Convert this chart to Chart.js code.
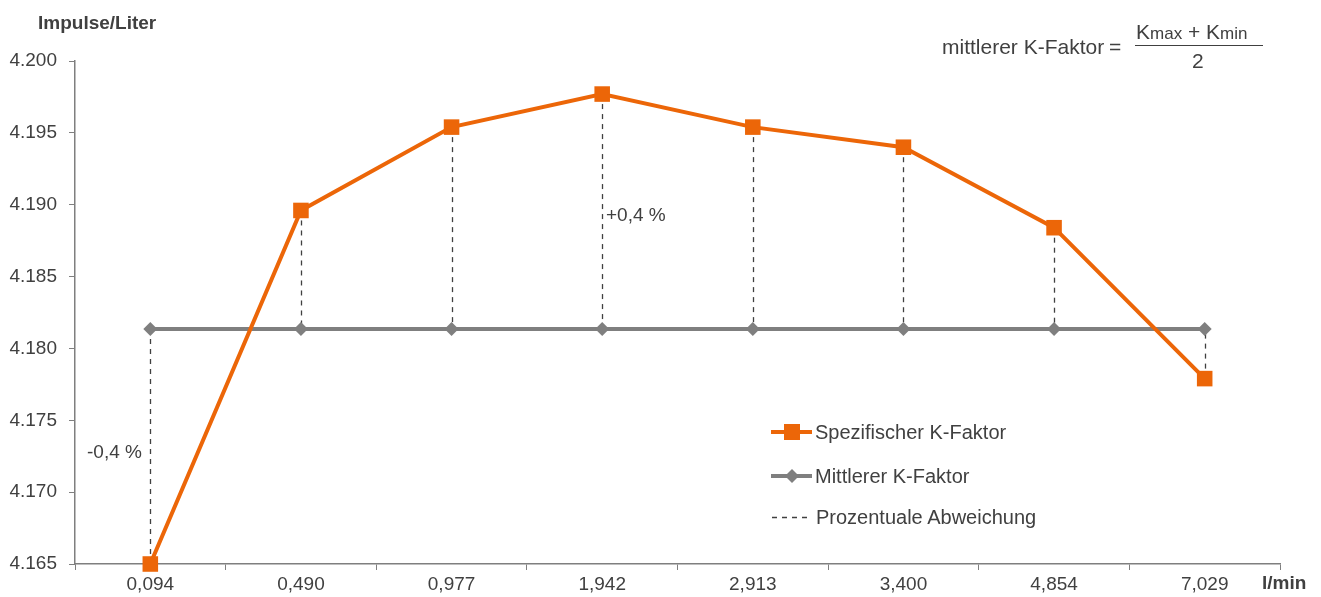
<!DOCTYPE html>
<html>
<head>
<meta charset="utf-8">
<script src="https://cdn.jsdelivr.net/npm/chart.js@4/dist/chart.umd.min.js"></script>
<style>
  body { margin: 0; background: #fff; }
  #wrap { position: relative; width: 1321px; height: 597px; font-family: "Liberation Sans", Arial, sans-serif; color: #404040; }
  #chart { position: absolute; left: 0; top: 0; }
  .txt { position: absolute; white-space: nowrap; line-height: 1; }
  .b { font-weight: bold; }
</style>
</head>
<body>
<div id="wrap">
  <canvas id="chart" width="1321" height="597"></canvas>
  <div class="txt b" style="left:38px; top:13px; font-size:19px;">Impulse/Liter</div>
  <div class="txt b" style="left:1262px; top:573px; font-size:19px;">l/min</div>
  <div class="txt" style="left:942px; top:36px; font-size:21px;">mittlerer K-Faktor</div>
  <div class="txt" style="left:1109px; top:36px; font-size:21px;">=</div>
  <div class="txt" style="left:1136px; top:21px; font-size:21px;">K<span style="font-size:17px">max</span> + K<span style="font-size:17px">min</span></div>
  <div style="position:absolute; left:1135px; top:45px; width:128px; height:1px; background:#404040;"></div>
  <div class="txt" style="left:1192px; top:50px; font-size:21px;">2</div>
  <div class="txt" style="left:606px; top:205px; font-size:19px;">+0,4 %</div>
  <div class="txt" style="left:87px; top:442px; font-size:19px;">-0,4 %</div>
  <div class="txt" style="left:815px; top:422px; font-size:20px;">Spezifischer K-Faktor</div>
  <div class="txt" style="left:815px; top:466px; font-size:20px;">Mittlerer K-Faktor</div>
  <div class="txt" style="left:816px; top:507px; font-size:20px;">Prozentuale Abweichung</div>
</div>
<script>
// Durchfluss in l/min
var durchfluss = ['0,094', '0,490', '0,977', '1,942', '2,913', '3,400', '4,854', '7,029'];
// spezifischer K-Faktor (Impulse/Liter)
var kSpezifisch = [4.1650, 4.1896, 4.1954, 4.1977, 4.1954, 4.1940, 4.1884, 4.1779];
// mittlerer K-Faktor = (Kmax + Kmin) / 2
var kMittel = [4.18135, 4.18135, 4.18135, 4.18135, 4.18135, 4.18135, 4.18135, 4.18135];
var yMin = 4.165, yMax = 4.200, yStep = 0.005;

var orange = '#EC6608';
var grau = '#7F7F7F';
var dunkel = '#404040';

// gestrichelte Linien zwischen spezifischem und mittlerem Wert
var abweichung = {
  id: 'abweichung',
  beforeDatasetsDraw: function(chart) {
    var ctx = chart.ctx;
    var x = chart.scales.x, y = chart.scales.y;
    ctx.save();
    ctx.strokeStyle = dunkel;
    ctx.lineWidth = 1.3;
    ctx.setLineDash([5, 5]);
    for (let i = 0; i < durchfluss.length; i++) {
      var px = Math.round(x.getPixelForValue(i)) + 0.5;
      ctx.beginPath();
      ctx.moveTo(px, y.getPixelForValue(kSpezifisch[i]));
      ctx.lineTo(px, y.getPixelForValue(kMittel[i]));
      ctx.stroke();
    }
    ctx.restore();
  }
};

// Legendensymbole
var legende = {
  id: 'legende',
  afterDraw: function(chart) {
    var ctx = chart.ctx;
    ctx.save();
    ctx.lineWidth = 4;
    ctx.strokeStyle = orange;
    ctx.beginPath(); ctx.moveTo(771, 432); ctx.lineTo(812, 432); ctx.stroke();
    ctx.fillStyle = orange;
    ctx.fillRect(784, 424, 16, 16);
    ctx.strokeStyle = grau;
    ctx.beginPath(); ctx.moveTo(771, 476); ctx.lineTo(812, 476); ctx.stroke();
    ctx.fillStyle = grau;
    ctx.beginPath(); ctx.moveTo(792, 469); ctx.lineTo(799, 476); ctx.lineTo(792, 483); ctx.lineTo(785, 476); ctx.closePath(); ctx.fill();
    ctx.lineWidth = 1.3;
    ctx.strokeStyle = dunkel;
    ctx.setLineDash([5, 5]);
    ctx.beginPath(); ctx.moveTo(772, 517.5); ctx.lineTo(808, 517.5); ctx.stroke();
    ctx.restore();
  }
};

var kaavio = new Chart(document.getElementById('chart'), {
  type: 'line',
  data: {
    labels: durchfluss,
    datasets: [{
      label: 'Spezifischer K-Faktor',
      data: kSpezifisch,
      borderColor: orange,
      backgroundColor: orange,
      borderWidth: 4,
      pointStyle: 'rect',
      pointRadius: 11,
      pointBorderWidth: 0,
      pointHoverRadius: 11,
      tension: 0,
      clip: false
    }, {
      label: 'Mittlerer K-Faktor',
      data: kMittel,
      borderColor: grau,
      backgroundColor: grau,
      borderWidth: 4,
      pointStyle: 'rectRot',
      pointRadius: 7,
      pointBorderWidth: 0,
      tension: 0,
      clip: false
    }]
  },
  options: {
    responsive: false,
    animation: false,
    layout: { padding: { left: 0, top: 61, right: 41, bottom: 0 } },
    plugins: { legend: { display: false }, tooltip: { enabled: false } },
    scales: {
      x: {
        offset: true,
        grid: { offset: true, drawOnChartArea: false, drawTicks: true, tickLength: 6, color: grau },
        border: { color: grau, width: 1.5 },
        ticks: { color: dunkel, padding: 3, font: { family: 'Liberation Sans', size: 19 }, maxRotation: 0 },
        afterFit: function(s) { s.height = 33; }
      },
      y: {
        min: yMin,
        max: yMax,
        grid: { drawOnChartArea: false, drawTicks: true, tickLength: 6, color: grau },
        border: { color: grau, width: 1.5 },
        ticks: {
          stepSize: yStep,
          color: dunkel,
          padding: 12,
          font: { family: 'Liberation Sans', size: 19 },
          callback: function(v) { return v.toFixed(3); }
        },
        afterFit: function(s) { s.width = 75; }
      }
    }
  },
  plugins: [abweichung, legende]
});
</script>
</body>
</html>
